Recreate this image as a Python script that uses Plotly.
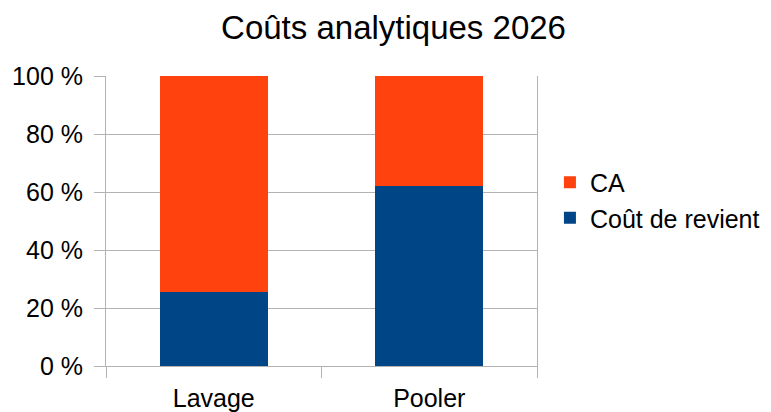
import plotly.graph_objects as go

categories = ["Lavage", "Pooler"]
cout_de_revient = [25.5, 62.2]
ca = [74.5, 37.8]
y_ticks = [0, 20, 40, 60, 80, 100]
y_tick_labels = ["0 %", "20 %", "40 %", "60 %", "80 %", "100 %"]

FONT = "Liberation Sans, Arial, sans-serif"
GRID = "#b3b3b3"

fig = go.Figure()
fig.add_trace(go.Bar(name="Coût de revient", x=categories, y=cout_de_revient,
                     marker=dict(color="#004586", line=dict(width=0))))
fig.add_trace(go.Bar(name="CA", x=categories, y=ca,
                     marker=dict(color="#ff420e", line=dict(width=0))))

fig.update_layout(
    width=771, height=412,
    barmode="stack", bargap=0.5,
    paper_bgcolor="white", plot_bgcolor="white",
    margin=dict(l=98, r=242, t=68, b=54, autoexpand=False),
    font=dict(family=FONT, size=25, color="#000000"),
    title=dict(text="Coûts analytiques 2026", font=dict(family=FONT, size=33, color="#000"),
               x=0.5, xref="container", xanchor="center",
               y=0.982, yref="container", yanchor="top"),
    showlegend=True,
    legend=dict(x=1.03, xref="paper", xanchor="left", y=0.572, yanchor="middle",
                traceorder="reversed", font=dict(size=25),
                itemsizing="constant", bgcolor="rgba(0,0,0,0)"),
    xaxis=dict(showgrid=False, showline=True, linecolor=GRID, linewidth=1,
               ticks="outside", tickson="boundaries", ticklen=11, tickcolor=GRID,
               ticklabelstandoff=10, tickfont=dict(size=25)),
    yaxis=dict(range=[0, 100], tickvals=y_ticks, ticktext=y_tick_labels,
               showgrid=True, gridcolor=GRID, gridwidth=1,
               showline=True, linecolor=GRID, linewidth=1, mirror=True,
               ticks="outside", ticklen=11, tickcolor=GRID,
               ticklabelstandoff=6, tickfont=dict(size=25), zeroline=False),
)

fig.write_html("out.html")
